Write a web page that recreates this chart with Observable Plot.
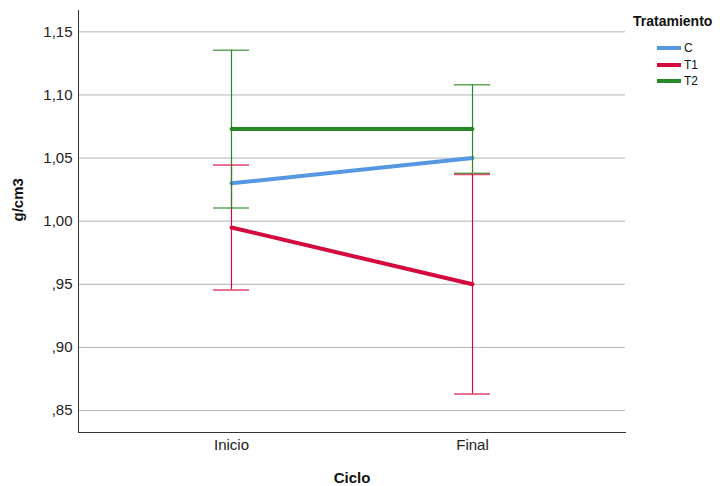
<!DOCTYPE html>
<html>
<head>
<meta charset="utf-8">
<script src="https://cdn.jsdelivr.net/npm/d3@7"></script>
<script src="https://cdn.jsdelivr.net/npm/@observablehq/plot@0.6"></script>
<style>
  html, body { margin: 0; padding: 0; background: #fff; }
  #wrap { position: relative; width: 724px; height: 486px; font-family: "Liberation Sans", Arial, sans-serif; }
  #legend { position: absolute; left: 633px; top: 12px; color: #111; }
  #legend .title { font-weight: bold; font-size: 14px; line-height: 18px; }
  #legend .item { position: relative; height: 16.5px; font-size: 12px; padding-left: 51px; line-height: 16px; }
  #legend .sw { position: absolute; left: 24px; top: 6px; width: 24px; height: 4px; }
</style>
</head>
<body>
<div id="wrap"></div>
<script>
const ciclos = ["Inicio", "Final"];
const tratamientos = ["C", "T1", "T2"];
const colores = ["#5697e4", "#d40a3e", "#258a25"];
const mediaC = [1.030, 1.050];
const mediaT1 = [0.995, 0.950];
const mediaT2 = [1.073, 1.073];
const errT1 = [0.0495, 0.087];
const errT2 = [0.0625, 0.035];
const yTicks = [0.85, 0.90, 0.95, 1.00, 1.05, 1.10, 1.15];

const medias = {C: mediaC, T1: mediaT1, T2: mediaT2};
const errores = {T1: errT1, T2: errT2};

const lineas = [];
for (const t of tratamientos) ciclos.forEach((c, i) => lineas.push({ciclo: c, trat: t, y: medias[t][i]}));
const barras = [];
for (const t of ["T1", "T2"]) ciclos.forEach((c, i) => barras.push({ciclo: c, trat: t, lo: medias[t][i] - errores[t][i], hi: medias[t][i] + errores[t][i]}));

const fmt = v => { let s = v.toFixed(2).replace(".", ","); if (s.startsWith("0")) s = s.slice(1); return s; };

const plot = Plot.plot({
  width: 724, height: 486,
  marginLeft: 78, marginRight: 99, marginTop: 10, marginBottom: 54,
  style: {fontFamily: '"Liberation Sans", Arial, sans-serif', fontSize: "14px", color: "#222", background: "transparent"},
  x: {type: "band", domain: ciclos, paddingInner: 0.851, paddingOuter: 0.558, label: null},
  y: {domain: [0.8326, 1.1669], label: null},
  color: {domain: tratamientos, range: colores},
  marks: [
    Plot.gridY(yTicks, {stroke: "#b4b4b4", strokeOpacity: 1, strokeWidth: 1}),
    Plot.axisY(yTicks, {tickSize: 0, tickPadding: 6, tickFormat: fmt, label: null, fontSize: 15, fill: "#222"}),
    Plot.axisX({tickSize: 0, tickPadding: 7, label: null, fontSize: 15, fill: "#222"}),
    Plot.frame({anchor: "left", stroke: "#333"}),
    Plot.frame({anchor: "bottom", stroke: "#333"}),
    Plot.line(lineas, {x: "ciclo", y: "y", z: "trat", stroke: "trat", strokeWidth: 4}),
    Plot.ruleX(barras, {x: "ciclo", y1: "lo", y2: "hi", stroke: "trat", strokeWidth: 1.2}),
    Plot.tickY(barras, {x: "ciclo", y: "lo", stroke: "trat", strokeWidth: 1.5, strokeOpacity: 0.75}),
    Plot.tickY(barras, {x: "ciclo", y: "hi", stroke: "trat", strokeWidth: 1.5, strokeOpacity: 0.75}),
    Plot.text(["g/cm3"], {frameAnchor: "left", dx: -60, rotate: -90, fontWeight: "bold", fontSize: 15, fill: "#111"}),
    Plot.text(["Ciclo"], {frameAnchor: "bottom", dy: 45, fontWeight: "bold", fontSize: 15, fill: "#111", dy: 50})
  ]
});
const wrap = document.getElementById("wrap");
wrap.appendChild(plot);

const leg = document.createElement("div");
leg.id = "legend";
let html = '<div class="title">Tratamiento</div><div style="height:10px"></div>';
tratamientos.forEach((t, i) => {
  html += `<div class="item"><span class="sw" style="background:${colores[i]}"></span>${t}</div>`;
});
leg.innerHTML = html;
wrap.appendChild(leg);
</script>
</body>
</html>
